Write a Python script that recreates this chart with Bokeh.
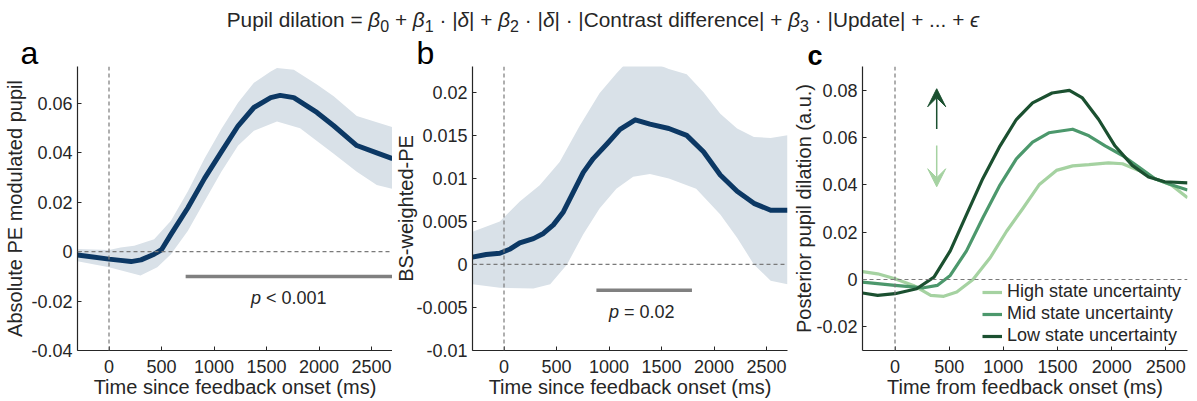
from bokeh.plotting import figure
from bokeh.models import (Span, Legend, LegendItem, Arrow, VeeHead, FixedTicker, Div)
from bokeh.layouts import row, column
from bokeh.embed import file_html
from bokeh.resources import INLINE
from bokeh.core.properties import value

# ---------------- data ----------------
x_ticks = [0, 500, 1000, 1500, 2000, 2500]
x_labels = ["0", "500", "1000", "1500", "2000", "2500"]

# panel a
a_yticks = [-0.04, -0.02, 0, 0.02, 0.04, 0.06]
a_ylabels = ["-0.04", "-0.02", "0", "0.02", "0.04", "0.06"]
a_t = [-300, 0, 110, 210, 305, 430, 500, 590, 750, 910, 1070, 1230, 1380, 1540, 1630, 1760, 1980, 2140, 2360, 2550, 2700]
a_mean = [-0.0013, -0.003, -0.0035, -0.004, -0.0033, -0.001, 0.0008, 0.007, 0.0177, 0.0297, 0.0404, 0.051, 0.0584, 0.0624, 0.0633, 0.0624, 0.0564, 0.051, 0.043, 0.040, 0.0377]
a_hi_t = [-300, 0, 110, 240, 430, 590, 750, 910, 1070, 1230, 1380, 1540, 1600, 1760, 1980, 2140, 2360, 2550, 2700]
a_hi = [0.0011, 0.0007, 0.0017, 0.0024, 0.005, 0.0125, 0.0244, 0.0377, 0.0497, 0.0604, 0.0684, 0.073, 0.0744, 0.0737, 0.0677, 0.063, 0.055, 0.0524, 0.0504]
a_lo_t = [-300, 0, 300, 460, 590, 750, 910, 1070, 1230, 1380, 1540, 1600, 1820, 2140, 2360, 2550, 2700]
a_lo = [-0.0039, -0.0063, -0.0096, -0.0063, -0.001, 0.0084, 0.0204, 0.0324, 0.043, 0.049, 0.0517, 0.0527, 0.050, 0.0397, 0.0324, 0.027, 0.0255]
a_sig_t = [730, 2700]
a_sig_y = -0.01
a_sig_text = "< 0.001"

# panel b
b_yticks = [-0.01, -0.005, 0, 0.005, 0.01, 0.015, 0.02]
b_ylabels = ["-0.01", "-0.005", "0", "0.005", "0.01", "0.015", "0.02"]
b_t = [-300, -170, -40, 60, 150, 280, 375, 470, 565, 660, 755, 850, 980, 1105, 1250, 1390, 1570, 1740, 1900, 2060, 2220, 2380, 2540, 2700]
b_mean = [0.00085, 0.00115, 0.0013, 0.0018, 0.0025, 0.003, 0.0036, 0.0046, 0.0061, 0.0084, 0.0107, 0.0123, 0.014, 0.0157, 0.0168, 0.0163, 0.0158, 0.015, 0.0131, 0.0104, 0.0085, 0.0071, 0.0063, 0.0063]
b_hi_t = [-300, -40, 150, 340, 530, 720, 910, 1070, 1170, 1410, 1570, 1740, 1900, 2060, 2220, 2380, 2540, 2700]
b_hi = [0.0038, 0.005, 0.0073, 0.0092, 0.0119, 0.0161, 0.0199, 0.0222, 0.0235, 0.0235, 0.0227, 0.0221, 0.020, 0.0175, 0.0158, 0.0148, 0.0147, 0.015]
b_lo_t = [-300, -40, 280, 440, 600, 755, 910, 1070, 1230, 1390, 1570, 1830, 2060, 2220, 2380, 2540, 2700]
b_lo = [-0.0023, -0.0027, -0.0028, -0.0023, 0.0, 0.0035, 0.0065, 0.0088, 0.0102, 0.0105, 0.010, 0.0088, 0.0058, 0.0031, 0.0, -0.0019, -0.0023]
b_sig_t = [880, 1790]
b_sig_y = -0.003
b_sig_text = "= 0.02"

# panel c
c_yticks = [-0.02, 0, 0.02, 0.04, 0.06, 0.08]
c_ylabels = ["-0.02", "0", "0.02", "0.04", "0.06", "0.08"]
series_names = ["High state uncertainty", "Mid state uncertainty", "Low state uncertainty"]
high_t = [-300, -160, 0, 170, 330, 450, 570, 720, 880, 1030, 1180, 1330, 1490, 1640, 1790, 1970, 2100, 2250, 2400, 2550, 2700]
high = [0.0033, 0.0024, 0.0003, -0.0025, -0.0067, -0.0071, -0.0053, 0.0, 0.0093, 0.0204, 0.030, 0.040, 0.0461, 0.048, 0.0485, 0.0493, 0.0489, 0.0461, 0.0426, 0.0399, 0.0346]
mid_t = [-300, 0, 265, 390, 510, 660, 810, 970, 1120, 1270, 1420, 1640, 1790, 1940, 2100, 2250, 2400, 2550, 2700]
mid = [-0.0011, -0.0025, -0.0035, -0.0025, 0.0017, 0.0121, 0.026, 0.040, 0.051, 0.058, 0.062, 0.0635, 0.0607, 0.0565, 0.0524, 0.0475, 0.0426, 0.040, 0.0378]
low_t = [-300, -160, 0, 200, 360, 510, 660, 810, 970, 1120, 1270, 1450, 1610, 1730, 1880, 2030, 2190, 2340, 2490, 2700]
low = [-0.0057, -0.0067, -0.006, -0.0039, 0.001, 0.0121, 0.0274, 0.0426, 0.0565, 0.0676, 0.0746, 0.0788, 0.0799, 0.0767, 0.0676, 0.0565, 0.0482, 0.0433, 0.0413, 0.0408]
arrow_t = 385
arrow_up = [0.0636, 0.0806]
arrow_down = [0.0566, 0.0392]

# ---------------- style ----------------
FONT = "Liberation Sans"
TXT = "#262626"
NAVY = "#0c3864"
BAND = "#d9e1e8"
GREY = "#808080"
DASH = "#7a7a7a"
C_HIGH, C_MID, C_LOW = "#a5d2a1", "#4c986c", "#1b5030"
FIG_H = 366


def base(width, left, right, y_range, yticks, ylabels, ylabel, xlabel, letter, letter_dx,
         letter_style="normal", letter_size="32px", ylabel_standoff=2):
    p = figure(width=width, height=FIG_H, x_range=(-300, 2700), y_range=y_range,
               output_backend="svg", toolbar_location=None, title=letter,
               min_border_left=left, min_border_right=right,
               min_border_top=32, min_border_bottom=30)
    p.title.text_font = FONT
    p.title.text_font_size = letter_size
    p.title.text_font_style = letter_style
    p.title.text_color = "black"
    p.title.align = "left"
    p.title.offset = letter_dx
    p.title.standoff = -9
    p.outline_line_color = None
    p.grid.visible = False
    for ax in (p.xaxis[0], p.yaxis[0]):
        ax.axis_line_color = TXT
        ax.axis_line_width = 1.2
        ax.major_tick_line_color = TXT
        ax.major_tick_line_width = 1
        ax.major_tick_in = 4
        ax.major_tick_out = 0
        ax.minor_tick_line_color = None
        ax.major_label_text_font = FONT
        ax.major_label_text_font_size = "18px"
        ax.major_label_text_color = TXT
        ax.axis_label_text_font = FONT
        ax.axis_label_text_font_size = "20px"
        ax.axis_label_text_font_style = "normal"
        ax.axis_label_text_color = TXT
    p.xaxis[0].major_label_standoff = 9
    p.yaxis[0].major_label_standoff = 5
    p.yaxis[0].axis_label_standoff = ylabel_standoff
    p.xaxis[0].axis_label_standoff = 0
    p.xaxis.ticker = FixedTicker(ticks=x_ticks)
    p.xaxis.major_label_overrides = {t: l for t, l in zip(x_ticks, x_labels)}
    p.yaxis.ticker = FixedTicker(ticks=yticks)
    p.yaxis.major_label_overrides = {t: l for t, l in zip(yticks, ylabels)}
    p.xaxis.axis_label = xlabel
    p.yaxis.axis_label = ylabel
    p.add_layout(Span(location=0, dimension="width", line_dash="4 3", line_color=DASH, line_width=1.2))
    p.add_layout(Span(location=0, dimension="height", line_dash="4 3", line_color=DASH, line_width=1.2))
    return p


def p_text(p, x, y, rest):
    p.text(x=[x], y=[y], text=["p"], text_font=value(FONT), text_font_style="italic",
           text_font_size="18px", text_align="right", text_baseline="alphabetic", text_color=TXT)
    p.text(x=[x], y=[y], text=[rest], text_font=value(FONT), text_font_size="18px",
           text_align="left", text_baseline="alphabetic", text_color=TXT, x_offset=5)


# ---------------- panel a ----------------
pa = base(392, 77, 0, (-0.04, 0.075), a_yticks, a_ylabels,
          "Absolute PE modulated pupil", "Time since feedback onset (ms)", "a", -57)
pa.patch(x=a_hi_t + a_lo_t[::-1], y=a_hi + a_lo[::-1], fill_color=BAND, line_color=None)
pa.line(a_t, a_mean, line_color=NAVY, line_width=5, line_join="round")
pa.segment(x0=[a_sig_t[0]], y0=[a_sig_y], x1=[a_sig_t[1]], y1=[a_sig_y], line_color=GREY, line_width=3.5)
p_text(pa, 1448, -0.0186, a_sig_text)

# ---------------- panel b ----------------
pb = base(396, 80, 1, (-0.01, 0.023), b_yticks, b_ylabels,
          "BS-weighted-PE", "Time since feedback onset (ms)", "b", -56, ylabel_standoff=-4)
pb.patch(x=b_hi_t + b_lo_t[::-1], y=b_hi + b_lo[::-1], fill_color=BAND, line_color=None)
pb.line(b_t, b_mean, line_color=NAVY, line_width=5, line_join="round")
pb.segment(x0=[b_sig_t[0]], y0=[b_sig_y], x1=[b_sig_t[1]], y1=[b_sig_y], line_color=GREY, line_width=3.5)
p_text(pb, 1095, -0.0055, b_sig_text)

# ---------------- panel c ----------------
pc = base(409, 74, 10, (-0.03, 0.09), c_yticks, c_ylabels,
          "Posterior pupil dilation (a.u.)", "Time from feedback onset (ms)", "c", -55,
          letter_style="bold", letter_size="27px", ylabel_standoff=-2)
rh = pc.line(high_t, high, line_color=C_HIGH, line_width=3.2, line_join="round")
rm = pc.line(mid_t, mid, line_color=C_MID, line_width=3.2, line_join="round")
rl = pc.line(low_t, low, line_color=C_LOW, line_width=3.2, line_join="round")
pc.add_layout(Arrow(end=VeeHead(size=18, fill_color=C_LOW, line_color=C_LOW, line_width=1),
                    x_start=arrow_t, y_start=arrow_up[0], x_end=arrow_t, y_end=arrow_up[1],
                    line_color=C_LOW, line_width=1.5))
pc.add_layout(Arrow(end=VeeHead(size=18, fill_color=C_HIGH, line_color=C_HIGH, line_width=1),
                    x_start=arrow_t, y_start=arrow_down[0], x_end=arrow_t, y_end=arrow_down[1],
                    line_color=C_HIGH, line_width=1.5))
legend = Legend(items=[LegendItem(label=series_names[0], renderers=[rh]),
                       LegendItem(label=series_names[1], renderers=[rm]),
                       LegendItem(label=series_names[2], renderers=[rl])],
                location=(120, 4), padding=0, margin=0, spacing=1,
                glyph_width=20, glyph_height=20, label_height=20, label_standoff=5,
                label_text_font=FONT, label_text_font_size="18px", label_text_color=TXT,
                background_fill_alpha=0, border_line_alpha=0)
pc.add_layout(legend)

SUB = '<sub style="font-size:16px;line-height:0">'
title_html = (
    '<div style="position:relative;width:1197px;height:34px;">'
    '<div style="position:absolute;left:603px;top:8px;transform:translateX(-50%);'
    'font-family:\'Liberation Sans\';font-size:20.8px;color:#262626;line-height:24px;white-space:nowrap;">'
    'Pupil dilation = <i>&beta;</i>' + SUB + '0</sub> + '
    '<i>&beta;</i>' + SUB + '1</sub> &middot; |<i>&delta;</i>| + '
    '<i>&beta;</i>' + SUB + '2</sub> &middot; |<i>&delta;</i>| &middot; '
    '|Contrast difference| + '
    '<i>&beta;</i>' + SUB + '3</sub> &middot; |Update| + ... + <i>&#1013;</i>'
    '</div></div>'
)
title = Div(text=title_html, width=1197, height=34, margin=(0, 0, 0, 0))

layout = column(title, row(pa, pb, pc, spacing=0), spacing=0)

with open("out.html", "w") as f:
    f.write(file_html(layout, INLINE))
